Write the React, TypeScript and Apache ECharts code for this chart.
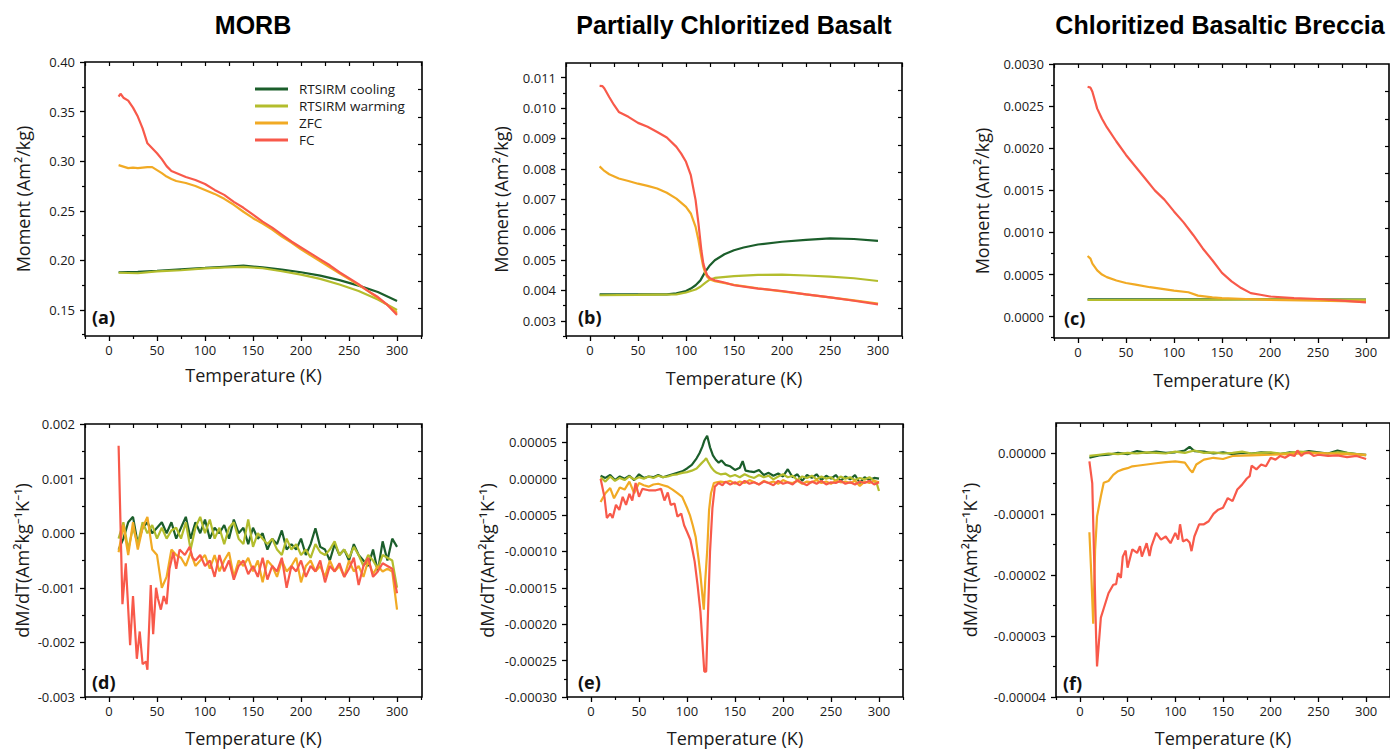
import React, { useEffect, useRef } from "react";
import * as echarts from "echarts";

// ---------------- DATA ----------------
const SERIES_NAMES = ["RTSIRM cooling", "RTSIRM warming", "ZFC", "FC"];
const COLORS = ["#1b5e2b", "#b3bd2d", "#f1aa24", "#f8594a"];
const PANEL_TITLES = ["MORB", "Partially Chloritized Basalt", "Chloritized Basaltic Breccia"];
const PANEL_TAGS = ["(a)", "(b)", "(c)", "(d)", "(e)", "(f)"];
const X_TITLE = "Temperature (K)";
const Y_TITLE_M = "Moment (Am²/kg)";
const Y_TITLE_D = "dM/dT(Am²kg⁻¹K⁻¹)";

const X_TICKS = [0, 50, 100, 150, 200, 250, 300];
const X_MINOR = [-25, 25, 75, 125, 175, 225, 275, 325];

// (a) MORB moment
const aCoolT = [10, 30, 50, 75, 100, 120, 140, 160, 180, 200, 220, 240, 260, 280, 300];
const aCool = [0.188, 0.1885, 0.1895, 0.191, 0.1923, 0.1935, 0.1946, 0.193, 0.1906, 0.188, 0.1846, 0.18, 0.1745, 0.168, 0.159];
const aWarm = [0.1875, 0.187, 0.1888, 0.19, 0.1918, 0.1928, 0.1935, 0.192, 0.189, 0.1856, 0.1813, 0.1756, 0.169, 0.1605, 0.15];
const aZfcT = [10, 15, 20, 25, 30, 35, 40, 45, 50, 55, 60, 65, 70, 80, 90, 100, 110, 120, 130, 140, 150, 160, 170, 180, 190, 200, 210, 220, 230, 240, 250, 260, 270, 280, 290, 300];
const aZfc = [0.296, 0.2945, 0.293, 0.2935, 0.293, 0.2935, 0.294, 0.294, 0.291, 0.288, 0.2845, 0.282, 0.28, 0.278, 0.275, 0.271, 0.267, 0.262, 0.256, 0.249, 0.2425, 0.237, 0.231, 0.224, 0.218, 0.211, 0.205, 0.199, 0.193, 0.187, 0.181, 0.175, 0.169, 0.162, 0.155, 0.147];
const aFcT = [10, 12, 15, 20, 25, 30, 35, 40, 45, 50, 55, 60, 65, 70, 80, 90, 100, 110, 120, 130, 140, 150, 160, 170, 180, 190, 200, 210, 220, 230, 240, 250, 260, 270, 280, 290, 300];
const aFc = [0.365, 0.368, 0.364, 0.361, 0.354, 0.345, 0.333, 0.318, 0.313, 0.308, 0.302, 0.295, 0.29, 0.288, 0.284, 0.281, 0.277, 0.271, 0.266, 0.259, 0.253, 0.246, 0.239, 0.233, 0.226, 0.219, 0.213, 0.207, 0.201, 0.195, 0.188, 0.182, 0.176, 0.169, 0.163, 0.155, 0.145];

// (b) Partially chloritized basalt moment
const bCoolT = [10, 50, 80, 90, 100, 105, 110, 115, 120, 125, 130, 140, 150, 160, 175, 200, 225, 250, 275, 300];
const bCool = [0.003866, 0.00387, 0.00387, 0.0039, 0.00398, 0.00406, 0.00417, 0.00433, 0.00461, 0.00483, 0.00499, 0.00519, 0.00532, 0.00541, 0.00551, 0.0056, 0.00566, 0.00571, 0.00569, 0.00563];
const bWarmT = [10, 50, 90, 100, 110, 115, 120, 125, 130, 150, 175, 200, 225, 250, 275, 300];
const bWarm = [0.00384, 0.00385, 0.00387, 0.00393, 0.00403, 0.00412, 0.00425, 0.00436, 0.00441, 0.00447, 0.00451, 0.00452, 0.00449, 0.00445, 0.0044, 0.00431];
const bZfcT = [10, 15, 20, 30, 40, 50, 60, 70, 80, 90, 100, 105, 110, 113, 116, 118, 120, 122, 125, 130, 150, 175, 200, 225, 250, 275, 300];
const bZfc = [0.00808, 0.00793, 0.00782, 0.00768, 0.0076, 0.00751, 0.00744, 0.00735, 0.00721, 0.00702, 0.00675, 0.00653, 0.00609, 0.00565, 0.0051, 0.00478, 0.00458, 0.00445, 0.00436, 0.0043, 0.00418, 0.00407, 0.00397, 0.00387, 0.00377, 0.00367, 0.00357];
const bFcT = [10, 13, 15, 20, 25, 30, 40, 50, 60, 70, 80, 90, 95, 100, 105, 110, 113, 116, 118, 120, 122, 125, 130, 140, 150, 175, 200, 225, 250, 275, 300];
const bFc = [0.01073, 0.01072, 0.01064, 0.01036, 0.0101, 0.00987, 0.00971, 0.00951, 0.00938, 0.00921, 0.00903, 0.00872, 0.0085, 0.00823, 0.00779, 0.00697, 0.0062, 0.00532, 0.00489, 0.00467, 0.0045, 0.0044, 0.00433, 0.00426, 0.00417, 0.00406, 0.00398, 0.00387, 0.00377, 0.00366, 0.00354];

// (c) Chloritized basaltic breccia moment
const cCoolT = [10, 100, 200, 300];
const cCool = [0.000205, 0.000205, 0.000207, 0.000203];
const cWarm = [0.000198, 0.0002, 0.000205, 0.0002];
const cZfcT = [10, 13, 15, 20, 25, 30, 40, 50, 60, 75, 100, 115, 125, 140, 150, 175, 200, 250, 300];
const cZfc = [0.00072, 0.00069, 0.00063, 0.00055, 0.0005, 0.00047, 0.00043, 0.0004, 0.00038, 0.00035, 0.00031, 0.00029, 0.00025, 0.00023, 0.00022, 0.00021, 0.0002, 0.00019, 0.00018];
const cFcT = [10, 13, 15, 20, 25, 30, 40, 50, 60, 70, 80, 90, 100, 110, 120, 130, 140, 150, 160, 170, 180, 190, 200, 225, 250, 275, 300];
const cFc = [0.00273, 0.00272, 0.00267, 0.00247, 0.00235, 0.00225, 0.00208, 0.00192, 0.00178, 0.00164, 0.0015, 0.00139, 0.00125, 0.00112, 0.00097, 0.00081, 0.00067, 0.00052, 0.00042, 0.00034, 0.00028, 0.00026, 0.00024, 0.00022, 0.00021, 0.00019, 0.00017];

// (d) MORB derivative, values in units of 1e-4
const D_UNIT = 1e-4;
const dT = [10, 15, 20, 25, 30, 35, 40, 45, 50, 55, 60, 65, 70, 75, 80, 85, 90, 95, 100, 105, 110, 115, 120, 125, 130, 135, 140, 145, 150, 155, 160, 165, 170, 175, 180, 185, 190, 195, 200, 205, 210, 215, 220, 225, 230, 235, 240, 245, 250, 255, 260, 265, 270, 275, 280, 285, 290, 295, 300];
const dCool = [-3, -1, 2, 3, -2, 1, 2, 0, 1, 2, 0, 2, -1, 1, 3, -1, 2, 0, 2.5, -1, 1, 0, 1.5, -1, 2.5, 0, 1, -2, 1, -1, 0, -3, -1, -2, 0.5, -3, -2, -3, -1, -4, -2, 0.9, -2.5, -3, -5, -2, -4, -3, -5, -2, -4, -5, -6, -3, -7, -1.5, -5, -1, -2.5];
const dWarm = [-1, 2, -3, 1, -2, 2, 0, 1.5, -1, 1, -1, 0.5, 1, -1, 2, -3, 1, 3, 0, 2.5, -1, 1, -2, 1, 2, -1, -2, 2.5, -2.5, 0, -1, -2, -1, -3, -4, -1, -3, -2, -4, -3, -4.5, -2, -3.5, -4, -3, -1.5, -4, -3, -4.5, -2.5, -4, -6, -4, -5, -6.5, -4, -4.5, -5, -10];
const dZfc = [-3.5, 1.5, -4, 2, -3, 1, 3, -3, -4, -10, -8, -3, -4, -4.5, -6, -3.5, -6, -5, -4, -6.5, -4, -7, -5, -3.5, -8, -5, -6, -4.5, -7, -5, -9, -5, -6, -8, -5, -7, -6, -4.5, -9, -6, -5, -7, -6, -8, -5, -7, -6, -8, -5, -7, -6, -8, -5, -7.5, -6, -7, -6.5, -7, -14];
const dFcT = [10, 14, 17.5, 22, 25, 29, 32, 35, 38.5, 40, 43.5, 46, 49, 51, 54, 57, 60, 63, 67, 70, 73.5, 79, 84, 87, 90, 95, 100, 105, 110, 115, 120, 125, 130, 135, 140, 145, 150, 155, 160, 165, 170, 175, 180, 185, 190, 195, 200, 205, 210, 215, 220, 225, 230, 235, 240, 245, 250, 255, 260, 265, 270, 275, 280, 285, 290, 295, 300];
const dFc = [16, -13, -5.5, -20.5, -11.5, -23, -18, -24, -23.5, -25, -9.5, -18.5, -10, -12, -14, -11.5, -13, -6.5, -3.5, -6.5, -3, -4, -2.5, -4.5, -5, -4, -6, -5, -8, -4, -7, -5, -8.5, -6, -5, -7.5, -6, -8, -4.5, -8.5, -6, -7, -4.5, -10, -6, -7, -5, -8, -6, -7, -5, -9, -6, -7, -5.5, -8, -6.5, -4.5, -9.5, -6, -4.5, -8, -7, -5.5, -6, -6.5, -11];

// (e) partially chloritized basalt derivative, units of 1e-5
const E_UNIT = 1e-5;
const eCoolT = [10, 15, 20, 25, 30, 35, 40, 45, 50, 55, 60, 65, 70, 75, 80, 85, 90, 95, 100, 105, 110, 113, 116, 118, 121, 124, 127, 130, 133, 136, 140, 145, 150, 155, 158, 161, 165, 170, 175, 180, 185, 190, 195, 200, 205, 210, 215, 220, 225, 230, 235, 240, 245, 250, 255, 260, 265, 270, 275, 280, 285, 290, 295, 300];
const eCool = [0.4, 0.1, 0.5, -0.2, 0.3, 0, 0.4, -0.2, 0.6, 0.1, 0.3, 0.2, 0.5, 0.2, 0.4, 0.6, 0.8, 1.0, 1.4, 1.9, 2.8, 3.5, 4.4, 5.2, 5.9, 4.3, 3.2, 2.6, 2.2, 2.5, 1.9, 1.7, 1.2, 1.5, 2.4, 1.1, 1.0, 0.9, 1.2, 0.5, 0.8, 0.4, 0.7, 0.3, 1.3, 0.2, 0.6, -0.3, 0.5, 0.1, 0.6, -0.2, 0.4, 0, 0.5, -0.3, 0.3, -0.1, 0.5, -0.6, 0.2, -0.2, 0.1, 0];
const eWarmT = [10, 15, 20, 25, 30, 35, 40, 45, 50, 55, 60, 65, 70, 75, 80, 85, 90, 95, 100, 105, 110, 115, 118, 120, 122, 125, 128, 131, 135, 140, 145, 150, 155, 160, 165, 170, 175, 180, 185, 190, 195, 200, 205, 210, 215, 220, 225, 230, 235, 240, 245, 250, 255, 260, 265, 270, 275, 280, 285, 290, 295, 298, 300];
const eWarm = [0.2, -0.4, 0.3, -0.3, 0.1, -0.2, 0.3, -0.1, 0.2, 0, 0.3, 0.1, 0.4, 0.2, 0.3, 0.5, 0.6, 0.8, 0.9, 1.1, 1.4, 2.1, 2.5, 2.8, 2.3, 1.6, 1.1, 0.8, 0.6, 0.7, 0.3, 0.5, 0.2, 0.6, 0.3, 0.1, 0.5, 0.2, 0.4, -0.1, 0.3, 0.6, 0.2, 0.4, -0.2, 0.3, 0.1, 0.4, -0.1, 0.3, 0, 0.2, -0.3, 0.3, 0, 0.2, -0.2, 0.1, -0.1, 0.2, -0.3, -0.8, -1.7];
const eZfcT = [10, 15, 20, 24, 30, 35, 40, 45, 50, 55, 60, 65, 70, 75, 80, 85, 90, 95, 100, 103, 106, 109, 112, 114, 116, 117.5, 119, 121, 123, 125, 128, 131, 135, 140, 145, 150, 155, 160, 165, 170, 175, 180, 185, 190, 195, 200, 205, 210, 215, 220, 225, 230, 235, 240, 245, 250, 255, 260, 265, 270, 275, 280, 285, 290, 295, 300];
const eZfc = [-3.2, -2, -1.3, -2.7, -1.2, -1.5, -0.4, -2, -0.6, -0.9, -1.1, -0.8, -0.7, -0.9, -1.1, -1.5, -2, -2.5, -4, -5, -6.4, -8, -11, -13.2, -16, -18, -14, -10, -4.3, -2, -0.6, -0.5, -0.4, -0.5, -0.3, -0.7, -0.4, -0.6, -0.2, -0.5, -0.8, -0.3, -0.6, -0.4, -0.7, -0.2, -0.5, -0.6, -0.3, -0.7, -0.4, -0.5, -0.2, -0.6, -0.4, -0.7, -0.3, -0.5, -0.4, -0.6, -0.3, -1.0, -0.4, -0.6, -0.3, -0.5];
const eFcT = [10, 14, 16.5, 20, 22.5, 26, 29.5, 33, 36.5, 40, 43, 46.5, 50, 53.5, 60, 67.5, 73, 76.5, 80, 83, 87, 90, 94, 97, 100, 103.5, 106, 108, 111, 114, 116, 118, 120, 121.5, 124, 126.5, 129, 133, 137, 140, 145, 150, 155, 160, 165, 170, 175, 180, 185, 190, 195, 200, 205, 210, 215, 220, 225, 230, 235, 240, 245, 250, 255, 260, 265, 270, 275, 280, 285, 290, 295, 300];
const eFc = [0, -2.5, -5.4, -4.8, -5.4, -3.6, -4.3, -2.5, -3.6, -2.1, -3, -0.6, -2.5, -1.4, -1.6, -1.6, -1.4, -3, -1.9, -3.6, -3.4, -5.2, -4.8, -6.4, -7.3, -8.4, -10, -11.4, -14.6, -18.3, -22.4, -26.5, -26.5, -20, -10, -4, -1.1, -0.6, -0.9, -0.4, -0.8, -0.5, -0.9, -0.3, -0.7, -0.5, -0.8, -0.4, -0.6, -0.9, -0.3, -0.7, -0.5, -0.8, -0.2, -0.6, -0.9, -0.4, -0.7, -0.3, -0.8, -0.5, -0.6, -0.3, -0.7, -0.5, -0.8, -0.4, -0.6, -0.3, -0.8, -0.5];

// (f) chloritized basaltic breccia derivative, units of 1e-5
const fCoolT = [10, 20, 30, 40, 50, 60, 70, 80, 90, 100, 110, 115, 120, 130, 140, 150, 160, 170, 180, 190, 200, 210, 220, 230, 240, 250, 260, 270, 280, 290, 300];
const fCool = [-0.08, -0.04, -0.03, 0, -0.02, 0.03, 0, 0.02, 0, 0.01, 0.04, 0.1, 0.03, 0.02, -0.01, 0.01, -0.02, 0, -0.01, 0.01, 0, -0.02, 0.01, 0, 0.03, 0.01, -0.01, 0.04, 0, -0.02, -0.03];
const fWarmT = [10, 20, 30, 40, 50, 60, 70, 80, 90, 100, 110, 120, 130, 140, 150, 160, 170, 180, 190, 200, 210, 220, 230, 240, 250, 260, 270, 280, 290, 300];
const fWarm = [-0.05, -0.03, -0.01, -0.02, 0, -0.01, 0.01, 0, -0.01, 0.02, 0, 0.04, 0, 0.01, -0.01, 0, 0.02, -0.01, 0, 0.01, -0.01, 0, 0.02, 0.01, 0, -0.01, 0.01, 0, -0.02, -0.04];
const fZfcT = [10, 12, 14, 16, 18, 22, 25, 30, 35, 40, 45, 50, 55, 60, 70, 80, 90, 100, 110, 115, 118, 122, 130, 140, 150, 160, 180, 200, 220, 240, 260, 280, 300];
const fZfc = [-1.3, -2.0, -2.8, -1.58, -1.04, -0.71, -0.49, -0.46, -0.36, -0.3, -0.27, -0.25, -0.22, -0.21, -0.19, -0.17, -0.15, -0.14, -0.16, -0.27, -0.32, -0.19, -0.11, -0.08, -0.1, -0.05, -0.04, -0.03, -0.02, 0, -0.01, -0.02, -0.03];
const fFcT = [10, 13, 15, 17, 18, 20, 22, 25, 30, 35, 38, 40, 43, 45, 48, 50, 55, 60, 63, 65, 70, 73, 75, 80, 85, 90, 95, 100, 103, 105, 108, 112, 115, 117, 120, 125, 130, 135, 140, 145, 150, 155, 160, 165, 170, 175, 178, 180, 185, 190, 195, 200, 205, 210, 215, 220, 225, 228, 232, 235, 240, 245, 250, 260, 270, 280, 290, 300];
const fFc = [-0.14, -0.5, -1.75, -3.0, -3.5, -3.1, -2.7, -2.55, -2.3, -2.16, -2.15, -1.97, -2.05, -1.7, -1.6, -1.88, -1.58, -1.64, -1.53, -1.7, -1.48, -1.69, -1.53, -1.31, -1.42, -1.37, -1.48, -1.31, -1.42, -1.17, -1.45, -1.42, -1.47, -1.61, -1.37, -1.17, -1.17, -1.12, -1.0, -0.93, -0.9, -0.74, -0.79, -0.6, -0.52, -0.42, -0.38, -0.21, -0.27, -0.19, -0.22, -0.08, -0.11, -0.05, -0.08, -0.03, -0.05, 0.04, -0.05, -0.01, 0.01, -0.05, -0.03, -0.05, -0.04, -0.07, -0.05, -0.1];

// Y axis ranges / ticks
const aYTicks = [0.15, 0.2, 0.25, 0.3, 0.35, 0.4];
const aYMinor = [0.125, 0.175, 0.225, 0.275, 0.325, 0.375];
const bYTicks = [0.003, 0.004, 0.005, 0.006, 0.007, 0.008, 0.009, 0.01, 0.011];
const bYMinor = [0.0025, 0.0035, 0.0045, 0.0055, 0.0065, 0.0075, 0.0085, 0.0095, 0.0105];
const cYTicks = [0, 0.0005, 0.001, 0.0015, 0.002, 0.0025, 0.003];
const cYMinor = [-0.00025, 0.00025, 0.00075, 0.00125, 0.00175, 0.00225, 0.00275];
const dYTicks = [-0.003, -0.002, -0.001, 0, 0.001, 0.002];
const dYMinor = [-0.0025, -0.0015, -0.0005, 0.0005, 0.0015];
const eYTicks = [-0.0003, -0.00025, -0.0002, -0.00015, -0.0001, -0.00005, 0, 0.00005];
const eYMinor = [-0.000275, -0.000225, -0.000175, -0.000125, -0.000075, -0.000025, 0.000025];
const fYTicks = [-0.00004, -0.00003, -0.00002, -0.00001, 0];
const fYMinor = [-0.000035, -0.000025, -0.000015, -0.000005];
const RIGHT_TICKS = [0.1, 0.2, 0.3, 0.4, 0.5, 0.6, 0.7, 0.8, 0.9];

// ---------------- LAYOUT ----------------
const LAYOUT = [
  { left: 85, top: 62, width: 337, height: 274, xMax: 326, yMin: 0.1237, yMax: 0.4, dec: 2, yTicks: aYTicks, yMinor: aYMinor, yName: Y_TITLE_M, yGap: 53, xGap: 30, tagX: 92, tagY: 317 },
  { left: 566, top: 63, width: 336, height: 273, xMax: 325, yMin: 0.0025, yMax: 0.01148, dec: 3, yTicks: bYTicks, yMinor: bYMinor, yName: Y_TITLE_M, yGap: 56, xGap: 33, tagX: 578, tagY: 317 },
  { left: 1054, top: 64, width: 335, height: 274, xMax: 324, yMin: -0.000253, yMax: 0.003, dec: 4, yTicks: cYTicks, yMinor: cYMinor, yName: Y_TITLE_M, yGap: 63, xGap: 33, tagX: 1064, tagY: 318 },
  { left: 85, top: 424, width: 337, height: 273, xMax: 326, yMin: -0.003, yMax: 0.002, dec: 3, yTicks: dYTicks, yMinor: dYMinor, yName: Y_TITLE_D, yGap: 54, xGap: 32, tagX: 92, tagY: 682 },
  { left: 567, top: 424, width: 336, height: 273, xMax: 325, yMin: -0.0003, yMax: 0.0000751, dec: 5, yTicks: eYTicks, yMinor: eYMinor, yName: Y_TITLE_D, yGap: 71, xGap: 32, tagX: 578, tagY: 682 },
  { left: 1056, top: 423, width: 336, height: 274, xMax: 325, yMin: -0.00004, yMax: 0.0000049, dec: 5, yTicks: fYTicks, yMinor: fYMinor, yName: Y_TITLE_D, yGap: 77, xGap: 32, tagX: 1063, tagY: 683 },
];
const TITLE_POS = [{ x: 253, y: 25 }, { x: 734, y: 25 }, { x: 1220, y: 25 }];

const zip = (t: number[], v: number[], s = 1) => t.map((x, i) => [x, v[i] * s]);

const PANEL_SERIES = [
  [zip(aCoolT, aCool), zip(aCoolT, aWarm), zip(aZfcT, aZfc), zip(aFcT, aFc)],
  [zip(bCoolT, bCool), zip(bWarmT, bWarm), zip(bZfcT, bZfc), zip(bFcT, bFc)],
  [zip(cCoolT, cCool), zip(cCoolT, cWarm), zip(cZfcT, cZfc), zip(cFcT, cFc)],
  [zip(dT, dCool, D_UNIT), zip(dT, dWarm, D_UNIT), zip(dT, dZfc, D_UNIT), zip(dFcT, dFc, D_UNIT)],
  [zip(eCoolT, eCool, E_UNIT), zip(eWarmT, eWarm, E_UNIT), zip(eZfcT, eZfc, E_UNIT), zip(eFcT, eFc, E_UNIT)],
  [zip(fCoolT, fCool, E_UNIT), zip(fWarmT, fWarm, E_UNIT), zip(fZfcT, fZfc, E_UNIT), zip(fFcT, fFc, E_UNIT)],
];

const FONT = "'Open Sans', 'Noto Sans', sans-serif";
const TXT = "#1a1a1a";
const NO_LINE = { show: false, onZero: false };

function buildOption() {
  const grid: any[] = [];
  const xAxis: any[] = [];
  const yAxis: any[] = [];
  const series: any[] = [];
  LAYOUT.forEach((p, i) => {
    grid.push({ left: p.left, top: p.top, width: p.width, height: p.height, show: true, borderColor: "#000", borderWidth: 1.6, backgroundColor: "transparent", containLabel: false });
    const xMinor = X_MINOR.filter((v) => v >= -25 && v <= p.xMax);
    const fmt = (v: number) => {
      const s = Number(v).toFixed(p.dec);
      return parseFloat(s) === 0 ? (0).toFixed(p.dec) : s;
    };
    // x axes: main, minor, top
    xAxis.push({
      type: "value", gridIndex: i, position: "bottom", min: -25, max: p.xMax,
      axisLine: NO_LINE, splitLine: { show: false },
      axisTick: { show: true, inside: false, length: 5, customValues: X_TICKS, lineStyle: { color: "#000", width: 1.3 } },
      axisLabel: { show: true, customValues: X_TICKS, margin: 7, fontFamily: FONT, fontSize: 13, color: TXT },
      name: X_TITLE, nameLocation: "middle", nameGap: p.xGap,
      nameTextStyle: { fontFamily: FONT, fontSize: 18, color: TXT },
    });
    xAxis.push({
      type: "value", gridIndex: i, position: "bottom", min: -25, max: p.xMax,
      axisLine: NO_LINE, splitLine: { show: false },
      axisTick: { show: true, inside: false, length: 3, customValues: xMinor, lineStyle: { color: "#000", width: 1.2 } },
      axisLabel: { show: false },
    });
    xAxis.push({
      type: "value", gridIndex: i, position: "top", min: -25, max: p.xMax,
      axisLine: NO_LINE, splitLine: { show: false },
      axisTick: { show: true, inside: true, length: 4, customValues: X_TICKS.concat(xMinor), lineStyle: { color: "#000", width: 1.2 } },
      axisLabel: { show: false },
    });
    // y axes: main, minor, right
    yAxis.push({
      type: "value", gridIndex: i, position: "left", min: p.yMin, max: p.yMax,
      axisLine: NO_LINE, splitLine: { show: false },
      axisTick: { show: true, inside: false, length: 5, customValues: p.yTicks, lineStyle: { color: "#000", width: 1.3 } },
      axisLabel: { show: true, customValues: p.yTicks, margin: 10, fontFamily: FONT, fontSize: 13, color: TXT, formatter: fmt },
      name: p.yName, nameLocation: "middle", nameGap: p.yGap, nameRotate: 90,
      nameTextStyle: { fontFamily: FONT, fontSize: 18, color: TXT },
    });
    yAxis.push({
      type: "value", gridIndex: i, position: "left", min: p.yMin, max: p.yMax,
      axisLine: NO_LINE, splitLine: { show: false },
      axisTick: { show: true, inside: false, length: 3, customValues: p.yMinor.filter((v) => v >= p.yMin && v <= p.yMax), lineStyle: { color: "#000", width: 1.2 } },
      axisLabel: { show: false },
    });
    yAxis.push({
      type: "value", gridIndex: i, position: "right", min: 0, max: 1,
      axisLine: NO_LINE, splitLine: { show: false },
      axisTick: { show: true, inside: true, length: 4, customValues: RIGHT_TICKS, lineStyle: { color: "#000", width: 1.2 } },
      axisLabel: { show: false },
    });
    PANEL_SERIES[i].forEach((data, k) => {
      series.push({
        type: "line", name: SERIES_NAMES[k], xAxisIndex: 3 * i, yAxisIndex: 3 * i,
        data, showSymbol: false, symbol: "none", smooth: false,
        lineStyle: { color: COLORS[k], width: 2.2 }, itemStyle: { color: COLORS[k] },
        z: 2 + k,
      });
    });
  });

  const graphic: any[] = [];
  PANEL_TITLES.forEach((t, i) => {
    graphic.push({
      type: "text", x: TITLE_POS[i].x, y: TITLE_POS[i].y,
      style: { text: t, font: "bold 25px 'Liberation Sans', Arial, sans-serif", fill: "#000", align: "center", verticalAlign: "middle" },
    });
  });
  LAYOUT.forEach((p, i) => {
    graphic.push({
      type: "text", x: p.tagX, y: p.tagY,
      style: { text: PANEL_TAGS[i], font: `bold 18px ${FONT}`, fill: "#111", align: "left", verticalAlign: "middle" },
    });
  });

  return {
    animation: false,
    backgroundColor: "#ffffff",
    grid, xAxis, yAxis, series, graphic,
    legend: {
      show: true, orient: "vertical", left: 250, top: 77, icon: "rect",
      itemWidth: 33, itemHeight: 3, itemGap: 3,
      data: SERIES_NAMES,
      textStyle: { fontFamily: FONT, fontSize: 13.5, color: TXT, lineHeight: 14, padding: [0, 0, 0, 6] },
    },
  };
}

export default function App() {
  const ref = useRef<HTMLDivElement>(null);
  useEffect(() => {
    if (!ref.current) return;
    const chart = echarts.init(ref.current, undefined, { renderer: "svg" });
    chart.setOption(buildOption() as any);
    return () => chart.dispose();
  }, []);
  return <div ref={ref} style={{ position: "absolute", left: 0, top: 0, width: 1390, height: 749, background: "#fff" }} />;
}
